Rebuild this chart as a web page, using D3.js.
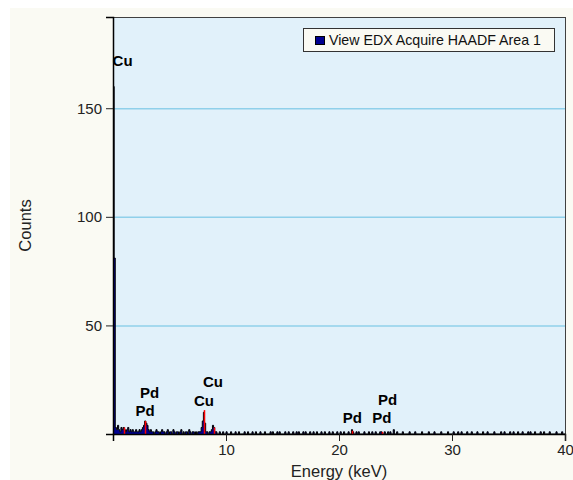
<!DOCTYPE html>
<html>
<head>
<meta charset="utf-8">
<script src="https://cdn.jsdelivr.net/npm/d3@7"></script>
<style>
  body { margin: 0; background: #ffffff; }
  text { font-family: "Liberation Sans", Arial, sans-serif; }
</style>
</head>
<body>
<div class="chart"></div>
<script>
// Data: counts per 0.1 keV channel, starting at 0.0 keV
var channelWidth = 0.1;
var counts = [
  160,81,3,2,4,2,1,3,2,3, 2,1,2,3,1,2,1,2,1,1,
  2,1,1,2,1,2,3,4,6,5, 4,2,1,2,1,1,0,1,2,1,
  1,0,1,2,1,1,0,1,2,0, 1,1,0,2,1,0,1,1,0,1,
  2,0,1,0,1,1,0,2,1,0, 1,1,0,1,0,1,1,1,3,6,
  10,5,1,1,0,1,1,2,4,3, 1,1,0,0,1,0,0,1,0,0,
  1,0,0,0,1,0,0,0,1,0, 0,1,0,0,0,0,1,0,0,1,
  0,0,0,1,0,0,1,0,0,0, 1,0,0,0,1,0,0,0,0,1,
  0,1,0,0,0,1,0,1,0,0, 0,0,1,0,0,1,0,0,0,1,
  0,0,1,0,1,0,0,0,1,0, 1,0,0,0,1,0,0,1,0,0,
  1,0,0,0,1,0,0,1,0,0, 0,1,0,0,1,0,0,0,1,0,
  0,1,0,0,1,0,0,0,1,0, 0,2,1,0,0,1,0,1,0,0,
  0,0,1,0,0,0,1,0,0,1, 0,0,1,0,0,0,1,1,0,0,
  1,0,0,1,0,1,0,0,2,0, 0,1,0,0,0,0,1,0,0,0,
  0,0,1,0,0,0,0,1,0,0, 0,0,0,1,0,0,0,0,0,1,
  0,0,0,0,1,0,0,0,0,0, 1,0,0,0,0,0,1,0,0,0,
  0,1,0,0,0,1,0,0,1,0, 0,0,0,1,0,0,0,1,0,0,
  0,0,1,0,0,0,0,1,0,0, 0,1,0,0,0,0,0,1,0,0,
  0,0,0,1,0,0,1,0,0,0, 0,1,0,0,1,0,0,0,1,0,
  0,0,1,0,0,0,0,1,0,1, 0,0,0,1,0,0,0,0,1,0,
  0,1,0,0,0,0,1,0,0,0, 0,0,1,0,0,0,0,1,0,0
];

// element line markers (red)
var lineEnergies = [0.93, 2.84, 8.04, 8.90, 21.18, 23.82];
var lineHeights  = [3, 6, 11, 3, 1.5, 1];

// peak labels
var labelNames    = ["Cu", "Pd", "Pd", "Cu", "Cu", "Pd", "Pd", "Pd"];
var labelEnergies = [0.85, 2.84, 3.23, 8.05, 8.85, 21.17, 23.8, 24.3];
var labelCounts   = [169.5, 8.5, 16.7, 13.1, 21.8, 5.2, 5.2, 13.5];

var xTicks = [10, 20, 30, 40];
var yTicks = [50, 100, 150];
var legendLabel = "View EDX Acquire HAADF Area 1";

// Configuration
var width = 573, height = 480;
var plot = {left: 113, top: 17, right: 565, bottom: 434};

var svg = d3.select(".chart").append("svg")
    .attr("width", width)
    .attr("height", height);

// outer panel
svg.append("rect")
    .attr("x", 10).attr("y", 8)
    .attr("width", width - 10).attr("height", height - 8)
    .attr("fill", "#fafaf3");

var x = d3.scaleLinear().domain([0, 40]).range([plot.left, plot.right]);
var y = d3.scaleLinear().domain([0, 192]).range([plot.bottom, plot.top]);

// plot background
svg.append("rect")
    .attr("x", plot.left).attr("y", plot.top)
    .attr("width", plot.right - plot.left)
    .attr("height", plot.bottom - plot.top)
    .attr("fill", "#e1f1fa");

// gridlines
svg.append("g").selectAll("line")
    .data(yTicks)
    .enter().append("line")
    .attr("x1", plot.left).attr("x2", plot.right)
    .attr("y1", function(d) { return y(d) + 0.5; })
    .attr("y2", function(d) { return y(d) + 0.5; })
    .attr("stroke", "#8fd0ea")
    .attr("stroke-width", 1.5);

// spectrum
var spectrum = counts.map(function(c, i) { return [i * channelWidth, c]; });
spectrum.push([40, 0]);

var area = d3.area()
    .curve(d3.curveStepAfter)
    .x(function(d) { return x(d[0]); })
    .y0(y(0))
    .y1(function(d) { return y(d[1]); });

var line = d3.line()
    .curve(d3.curveStepAfter)
    .x(function(d) { return x(d[0]); })
    .y(function(d) { return y(d[1]); });

svg.append("path")
    .datum(spectrum)
    .attr("d", area)
    .attr("fill", "#000090");

svg.append("path")
    .datum(spectrum)
    .attr("d", line)
    .attr("fill", "none")
    .attr("stroke", "#000000")
    .attr("stroke-width", 1);

// red element markers
svg.append("g").selectAll("line")
    .data(lineEnergies)
    .enter().append("line")
    .attr("x1", function(d) { return Math.round(x(d)) + 0.5; })
    .attr("x2", function(d) { return Math.round(x(d)) + 0.5; })
    .attr("y1", y(0))
    .attr("y2", function(d, i) { return y(lineHeights[i]); })
    .attr("stroke", "#ff0000")
    .attr("stroke-width", 1.5);

// peak labels
svg.append("g").selectAll("text")
    .data(labelNames)
    .enter().append("text")
    .attr("x", function(d, i) { return x(labelEnergies[i]); })
    .attr("y", function(d, i) { return y(labelCounts[i]); })
    .attr("text-anchor", "middle")
    .attr("font-size", 15)
    .attr("font-weight", "bold")
    .attr("fill", "#000")
    .text(function(d) { return d; });

// frame
svg.append("rect")
    .attr("x", plot.left + 0.5).attr("y", plot.top + 0.5)
    .attr("width", plot.right - plot.left)
    .attr("height", plot.bottom - plot.top)
    .attr("fill", "none")
    .attr("stroke", "#404040");

// axes
var xAxis = d3.axisBottom(x).tickValues(xTicks).tickSize(7).tickPadding(3);
var yAxis = d3.axisLeft(y).tickValues(yTicks).tickSize(7).tickPadding(4);

var gx = svg.append("g")
    .attr("transform", "translate(0," + plot.bottom + ")")
    .call(xAxis);
var gy = svg.append("g")
    .attr("transform", "translate(" + plot.left + ",0)")
    .call(yAxis);

[gx, gy].forEach(function(g) {
  g.select(".domain").attr("stroke", "#000").attr("stroke-width", 1.5);
  g.selectAll(".tick line").attr("stroke", "#222");
  g.selectAll(".tick text")
    .attr("font-size", 15)
    .attr("font-family", "Liberation Sans, Arial, sans-serif")
    .attr("fill", "#222");
});

// axis titles
svg.append("text")
    .attr("x", (plot.left + plot.right) / 2)
    .attr("y", 477)
    .attr("text-anchor", "middle")
    .attr("font-size", 16.5)
    .attr("fill", "#222")
    .text("Energy (keV)");

svg.append("text")
    .attr("transform", "translate(31," + (plot.top + plot.bottom) / 2 + ") rotate(-90)")
    .attr("text-anchor", "middle")
    .attr("font-size", 16.5)
    .attr("fill", "#222")
    .text("Counts");

// legend
var legend = svg.append("g");
legend.append("rect")
    .attr("x", 303.5).attr("y", 28.5)
    .attr("width", 251).attr("height", 23)
    .attr("fill", "#fafaf3")
    .attr("stroke", "#333");
legend.append("rect")
    .attr("x", 315.5).attr("y", 36.5)
    .attr("width", 9).attr("height", 8)
    .attr("fill", "#000090")
    .attr("stroke", "#000");
legend.append("text")
    .attr("x", 329).attr("y", 45)
    .attr("font-size", 14.2)
    .attr("fill", "#111")
    .text(legendLabel);
</script>
</body>
</html>
